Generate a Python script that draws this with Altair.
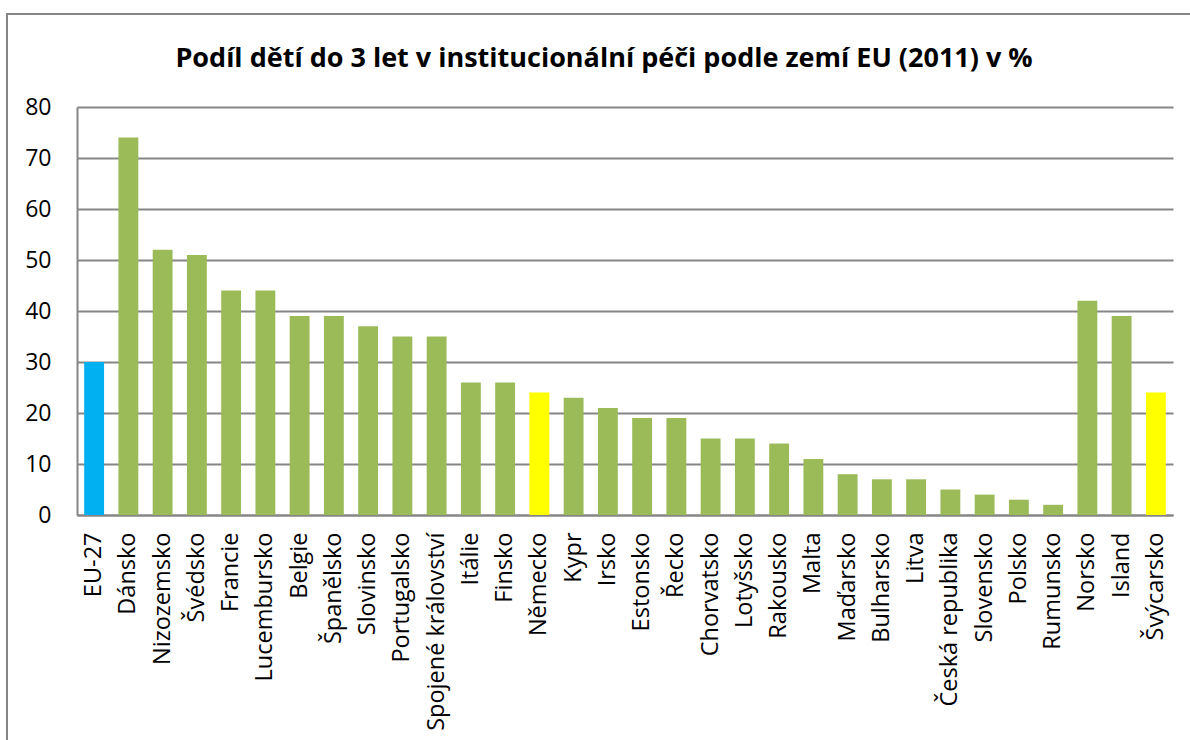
import altair as alt
import pandas as pd

countries = ["EU-27", "Dánsko", "Nizozemsko", "Švédsko", "Francie", "Lucembursko", "Belgie",
             "Španělsko", "Slovinsko", "Portugalsko", "Spojené království", "Itálie", "Finsko",
             "Německo", "Kypr", "Irsko", "Estonsko", "Řecko", "Chorvatsko", "Lotyšsko",
             "Rakousko", "Malta", "Maďarsko", "Bulharsko", "Litva", "Česká republika",
             "Slovensko", "Polsko", "Rumunsko", "Norsko", "Island", "Švýcarsko"]
values = [30, 74, 52, 51, 44, 44, 39, 39, 37, 35, 35, 26, 26, 24, 23, 21, 19, 19, 15, 15,
          14, 11, 8, 7, 7, 5, 4, 3, 2, 42, 39, 24]
groups = ["eu"] + ["green"] * 12 + ["yellow"] + ["green"] * 17 + ["yellow"]

df = pd.DataFrame({"country": countries, "value": values, "group": groups})

FONT = "Open Sans"
W, H = 1096, 408

bars = alt.Chart(df).mark_bar().encode(
    x=alt.X("country:N", sort=countries,
            scale=alt.Scale(paddingInner=0.42, paddingOuter=0.21),
            axis=alt.Axis(title=None, labelAngle=-90, labelAlign="right", labelBaseline="middle",
                          labelFontSize=23.5, labelFont=FONT, labelColor="black", labelPadding=17,
                          labelLimit=400, ticks=False, domainColor="#868686", domainWidth=2,
                          grid=False)),
    y=alt.Y("value:Q", scale=alt.Scale(domain=[0, 80]),
            axis=alt.Axis(title=None, values=list(range(0, 81, 10)), labelFontSize=23,
                          labelFont=FONT, labelColor="black", labelPadding=26, ticks=False,
                          domainColor="#868686", domainWidth=2, gridColor="#868686",
                          gridWidth=2)),
    color=alt.Color("group:N", scale=alt.Scale(domain=["eu", "green", "yellow"],
                                               range=["#00B0F0", "#9BBB59", "#FFFF00"]),
                    legend=None),
)

border = alt.Chart(df).mark_rect(fill=None, stroke="#868686", strokeWidth=2).encode(
    x=alt.value(-70), x2=alt.value(1200), y=alt.value(-93), y2=alt.value(700)
)

chart = alt.layer(border, bars).properties(
    width=W, height=H,
    title=alt.TitleParams("Podíl dětí do 3 let v institucionální péči podle zemí EU (2011) v %",
                          font=FONT, fontSize=27, fontWeight="bold", color="black",
                          anchor="middle", frame="group", dx=-21, offset=-60),
    autosize=alt.AutoSizeParams(type="none"),
    padding={"left": 77, "top": 107, "right": 17, "bottom": 225},
).configure_view(stroke=None)

chart.save("out.html", embed_options={"renderer": "svg", "actions": False})
